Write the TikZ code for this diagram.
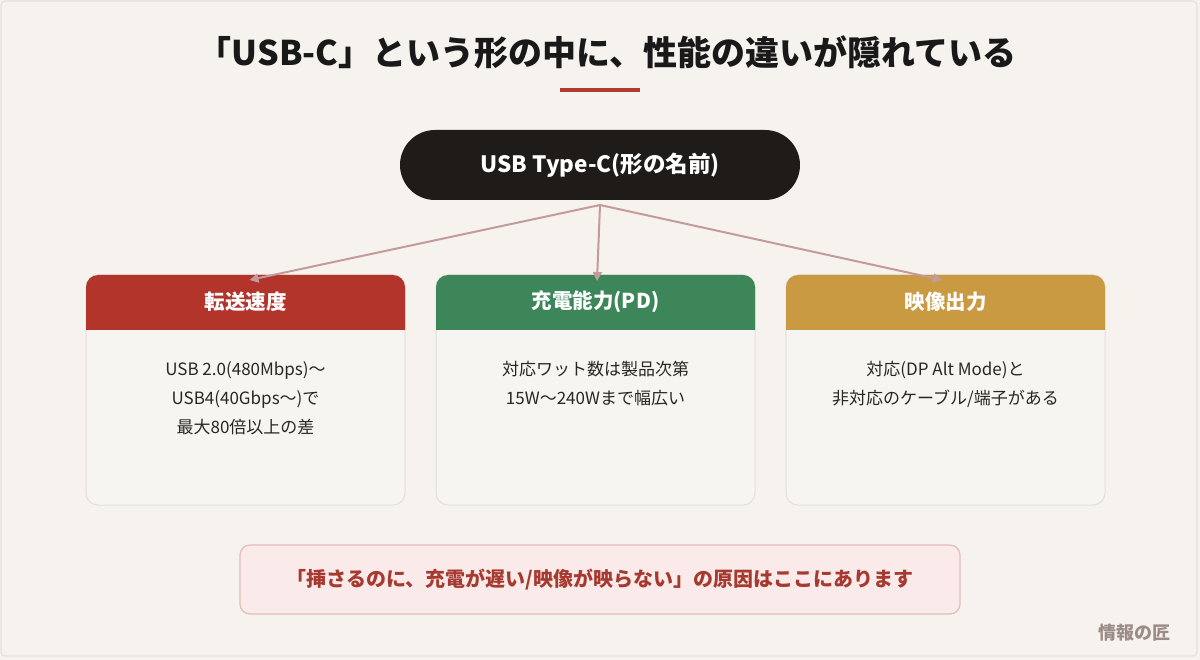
\documentclass[tikz,border=0pt]{standalone}
\usepackage{fontspec}
\setmainfont{Noto Sans CJK JP}
\usetikzlibrary{arrows.meta}
\definecolor{bg}{HTML}{F6F3EF}
\definecolor{frame}{HTML}{E6E0DA}
\definecolor{accent}{HTML}{B33B2E}
\definecolor{hred}{HTML}{B3342A}
\definecolor{hgreen}{HTML}{3C865A}
\definecolor{hgold}{HTML}{C99A42}
\definecolor{cardbody}{HTML}{F7F5F1}
\definecolor{cardline}{HTML}{E4DED6}
\definecolor{arrowc}{HTML}{C39B9A}
\definecolor{notefill}{HTML}{FAEBEA}
\definecolor{noteline}{HTML}{E2BDB9}
\definecolor{notetext}{HTML}{A63A30}
\definecolor{wmark}{HTML}{9C8B87}
\definecolor{pill}{HTML}{1F1B19}
\definecolor{bodytext}{HTML}{2A2624}
\tikzset{
  x=1pt, y=-1pt,
  card/.style={draw=cardline, line width=1pt, fill=cardbody, rounded corners=12pt},
  headtext/.style={text=white, font=\fontsize{20.5}{24}\selectfont\bfseries, anchor=center},
  bodytxt/.style={text=bodytext, font=\fontsize{17}{29}\selectfont, align=center, anchor=north},
  link/.style={draw=arrowc, line width=2pt, -{Triangle[length=9pt,width=9pt]}}
}
\begin{document}
\begin{tikzpicture}
\useasboundingbox (0,0) rectangle (1200,660);
\fill[bg] (0,0) rectangle (1200,660);
\draw[frame, line width=1.2pt, rounded corners=4pt] (1,1) rectangle (1197,656);

% title
\node[font=\fontsize{34}{38}\selectfont\bfseries, text=black!90] (title) at (607,52) {「USB-C」という形の中に、性能の違いが隠れている};
\fill[accent] (560,88) rectangle (640,92);

% top pill
\node[fill=pill, rounded corners=35pt, minimum width=400pt, minimum height=70pt, text=white, font=\fontsize{22.5}{26}\selectfont\bfseries] (top) at (600,165) {USB Type-C(形の名前)};
\coordinate (src) at (600,205);

% cards
\foreach \i/\x/\col in {1/86/hred, 2/436/hgreen, 3/786/hgold}{
  \draw[card] (\x,275) rectangle ++(319,230);
  \begin{scope}
    \clip[rounded corners=12pt] (\x,275) rectangle ++(319,230);
    \fill[\col] (\x,274) rectangle ++(320,56);
  \end{scope}
  \coordinate (card\i) at (\x+159.5,275);
}
\node[headtext] (h1) at (245.5,302) {転送速度};
\node[headtext] (h2) at (595.5,302) {充電能力(PD)};
\node[headtext] (h3) at (945.5,302) {映像出力};

\node[bodytxt] (b1) at (245.5,358) {USB 2.0(480Mbps)～\\USB4(40Gbps～)で\\最大80倍以上の差};
\node[bodytxt] (b2) at (595.5,358) {対応ワット数は製品次第\\15W～240Wまで幅広い};
\node[bodytxt] (b3) at (945.5,358) {対応(DP Alt Mode)と\\非対応のケーブル/端子がある};

% arrows
\draw[link] (src) -- ([xshift=4pt,yshift=-5pt]card1);
\draw[link] (src) -- ([xshift=1.5pt,yshift=-6pt]card2);
\draw[link] (src) -- ([xshift=-3.5pt,yshift=-5pt]card3);

% note
\node[draw=noteline, line width=1.2pt, fill=notefill, rounded corners=10pt, minimum width=720pt, minimum height=69pt, text=notetext, font=\fontsize{20}{24}\selectfont\bfseries] (note) at (600,579.5) {「挿さるのに、充電が遅い/映像が映らない」の原因はここにあります};

% watermark
\node[text=wmark, font=\fontsize{18}{21}\selectfont\bfseries] (wm) at (1134,633) {情報の匠};
\end{tikzpicture}
\end{document}
